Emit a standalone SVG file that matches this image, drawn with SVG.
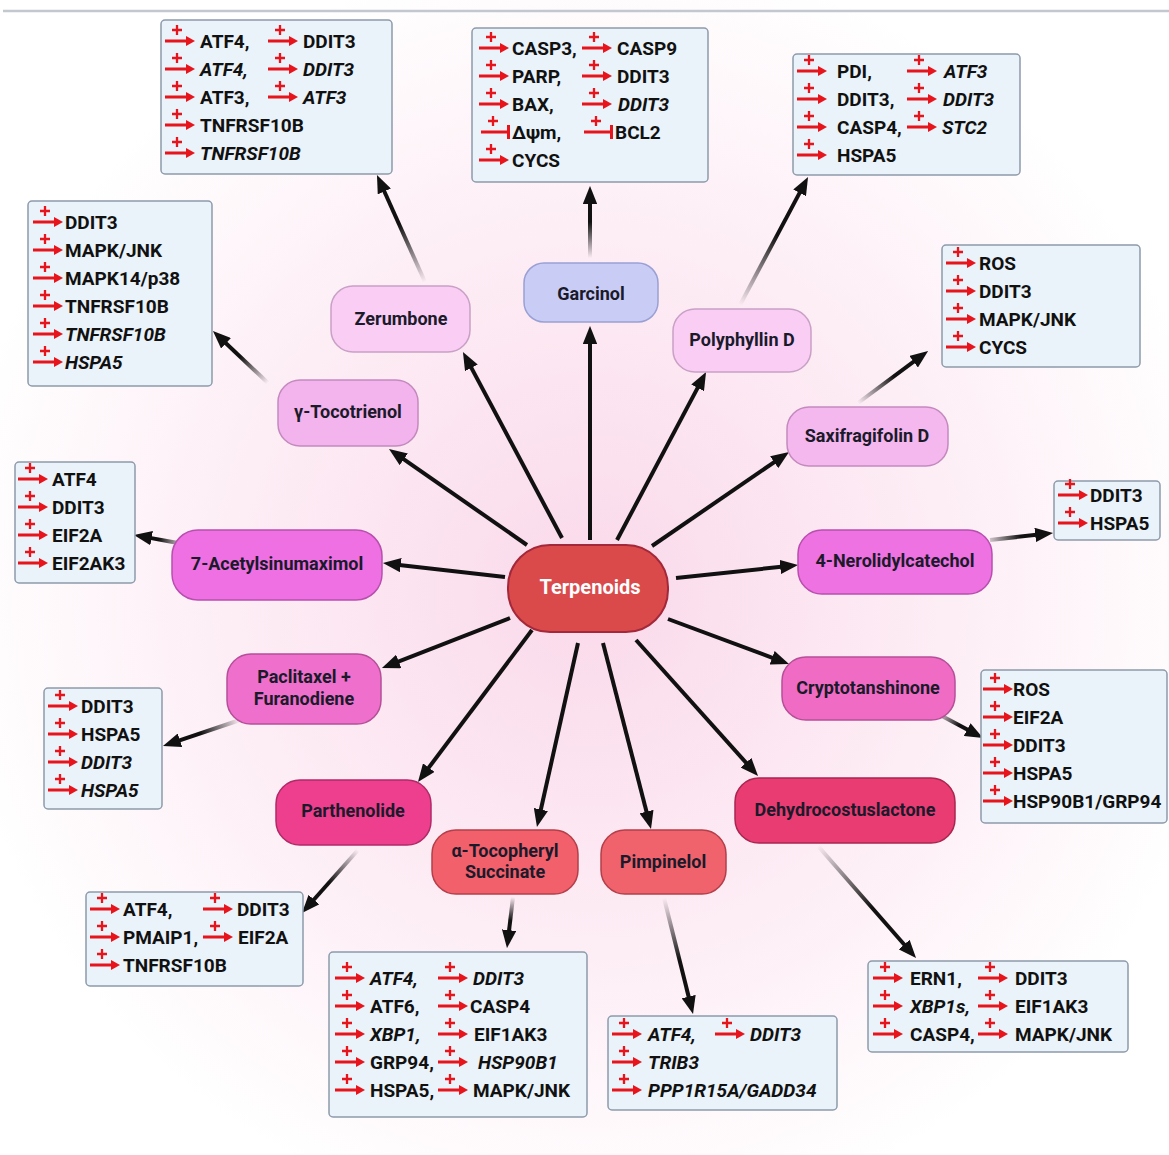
<svg xmlns="http://www.w3.org/2000/svg" xmlns:xlink="http://www.w3.org/1999/xlink" width="1169" height="1155" viewBox="0 0 1169 1155">
<defs>
<radialGradient id="bg" cx="590" cy="590" r="640" gradientUnits="userSpaceOnUse">
<stop offset="0" stop-color="#fad9ea"/>
<stop offset="0.55" stop-color="#fdedf5"/>
<stop offset="1" stop-color="#ffffff"/>
</radialGradient>
<marker id="ah" viewBox="0 0 10 8" refX="3.3" refY="4" markerWidth="4.5" markerHeight="3.6" orient="auto" markerUnits="strokeWidth">
<path d="M0,0 L10,4 L0,8 Z" fill="#111"/>
</marker>
<g id="act">
<path d="M12,-16 V-6 M7,-11 H17" stroke="#e8141c" stroke-width="2.3"/>
<path d="M0,0 H23" stroke="#e8141c" stroke-width="3"/>
<path d="M21,-5 L30,0 L21,5 Z" fill="#e8141c"/>
</g>
<g id="inh">
<path d="M12,-16 V-6 M7,-11 H17" stroke="#e8141c" stroke-width="2.3"/>
<path d="M0,0 H27" stroke="#e8141c" stroke-width="3"/>
<path d="M27.5,-7 V7" stroke="#e8141c" stroke-width="3"/>
</g>
<linearGradient id="ga" gradientUnits="userSpaceOnUse" x1="425" y1="282" x2="382" y2="186"><stop offset="0" stop-color="#111" stop-opacity="0"/><stop offset="0.6" stop-color="#111"/></linearGradient>
<linearGradient id="gb" gradientUnits="userSpaceOnUse" x1="590" y1="258" x2="590" y2="198"><stop offset="0" stop-color="#111" stop-opacity="0"/><stop offset="0.6" stop-color="#111"/></linearGradient>
<linearGradient id="gc" gradientUnits="userSpaceOnUse" x1="740" y1="305" x2="802" y2="188"><stop offset="0" stop-color="#111" stop-opacity="0"/><stop offset="0.6" stop-color="#111"/></linearGradient>
<linearGradient id="gd" gradientUnits="userSpaceOnUse" x1="268" y1="383" x2="222" y2="339"><stop offset="0" stop-color="#111" stop-opacity="0"/><stop offset="0.6" stop-color="#111"/></linearGradient>
<linearGradient id="ge" gradientUnits="userSpaceOnUse" x1="858" y1="403" x2="918" y2="358"><stop offset="0" stop-color="#111" stop-opacity="0"/><stop offset="0.6" stop-color="#111"/></linearGradient>
<linearGradient id="gf" gradientUnits="userSpaceOnUse" x1="178" y1="543" x2="146" y2="537"><stop offset="0" stop-color="#111" stop-opacity="0.3"/><stop offset="0.6" stop-color="#111"/></linearGradient>
<linearGradient id="gg" gradientUnits="userSpaceOnUse" x1="990" y1="540" x2="1041" y2="534"><stop offset="0" stop-color="#111" stop-opacity="0.2"/><stop offset="0.6" stop-color="#111"/></linearGradient>
<linearGradient id="gh" gradientUnits="userSpaceOnUse" x1="240" y1="720" x2="174" y2="742"><stop offset="0" stop-color="#111" stop-opacity="0"/><stop offset="0.6" stop-color="#111"/></linearGradient>
<linearGradient id="gi" gradientUnits="userSpaceOnUse" x1="940" y1="715" x2="972" y2="732"><stop offset="0" stop-color="#111" stop-opacity="0.2"/><stop offset="0.6" stop-color="#111"/></linearGradient>
<linearGradient id="gj" gradientUnits="userSpaceOnUse" x1="358" y1="850" x2="310" y2="904"><stop offset="0" stop-color="#111" stop-opacity="0"/><stop offset="0.6" stop-color="#111"/></linearGradient>
<linearGradient id="gk" gradientUnits="userSpaceOnUse" x1="513" y1="897" x2="508" y2="936"><stop offset="0" stop-color="#111" stop-opacity="0"/><stop offset="0.6" stop-color="#111"/></linearGradient>
<linearGradient id="gl" gradientUnits="userSpaceOnUse" x1="664" y1="898" x2="690" y2="1002"><stop offset="0" stop-color="#111" stop-opacity="0"/><stop offset="0.6" stop-color="#111"/></linearGradient>
<linearGradient id="gm" gradientUnits="userSpaceOnUse" x1="818" y1="846" x2="908" y2="949"><stop offset="0" stop-color="#111" stop-opacity="0"/><stop offset="0.6" stop-color="#111"/></linearGradient>
</defs>
<style>
.t{font-family:Roboto,"Liberation Sans",sans-serif;font-weight:700;font-size:19px;fill:#111}
.i{font-style:italic}
.n{font-family:Roboto,"Liberation Sans",sans-serif;font-weight:700;font-size:18px;fill:#1a1a2a;text-anchor:middle}
.box{fill:#eaf2fa;stroke:#8d9bab;stroke-width:1.5}
.c{stroke:#111;stroke-width:4;fill:none;marker-end:url(#ah)}
</style>
<rect width="1169" height="1155" fill="url(#bg)"/>
<line x1="3" y1="11" x2="1169" y2="11" stroke="#c3c7cf" stroke-width="2.5"/>

<g id="connectors">
<line class="c" x1="590" y1="540" x2="590" y2="338"/>
<line class="c" x1="562" y1="538" x2="468.6" y2="362.6"/>
<line class="c" x1="617" y1="540" x2="700.4" y2="382.6"/>
<line class="c" x1="527" y1="545" x2="398.9" y2="455.9"/>
<line class="c" x1="652" y1="546" x2="779.1" y2="458.8"/>
<line class="c" x1="505" y1="577" x2="394.9" y2="564.4"/>
<line class="c" x1="676" y1="578" x2="786.1" y2="566.3"/>
<line class="c" x1="510" y1="618" x2="393.2" y2="663.6"/>
<line class="c" x1="668" y1="619" x2="777.7" y2="659.8"/>
<line class="c" x1="532" y1="630" x2="425.2" y2="772.4"/>
<line class="c" x1="578" y1="643" x2="539.6" y2="815.3"/>
<line class="c" x1="603" y1="643" x2="648" y2="817.4"/>
<line class="c" x1="636" y1="640" x2="750" y2="767.1"/>
<line class="c" style="stroke:url(#ga)" x1="425" y1="282" x2="381.9" y2="186"/>
<line class="c" style="stroke:url(#gb)" x1="590" y1="258" x2="590" y2="198"/>
<line class="c" style="stroke:url(#gc)" x1="740" y1="305" x2="802.4" y2="187.6"/>
<line class="c" style="stroke:url(#gd)" x1="268" y1="383" x2="221.7" y2="339.2"/>
<line class="c" style="stroke:url(#ge)" x1="858" y1="403" x2="918.4" y2="358.2"/>
<line class="c" style="stroke:url(#gf)" x1="178" y1="543" x2="145.8" y2="537.1"/>
<line class="c" style="stroke:url(#gg)" x1="990" y1="540" x2="1041.1" y2="534.3"/>
<line class="c" style="stroke:url(#gh)" x1="240" y1="720" x2="174.4" y2="742.2"/>
<line class="c" style="stroke:url(#gi)" x1="940" y1="715" x2="972.4" y2="732.3"/>
<line class="c" style="stroke:url(#gj)" x1="358" y1="850" x2="310" y2="904"/>
<line class="c" style="stroke:url(#gk)" x1="513" y1="897" x2="508.4" y2="936.1"/>
<line class="c" style="stroke:url(#gl)" x1="664" y1="898" x2="690.1" y2="1002.4"/>
<line class="c" style="stroke:url(#gm)" x1="818" y1="846" x2="908.1" y2="949"/>
</g>

<g id="terpenoids"><rect x="508" y="545" width="160" height="87" rx="42" fill="#da4a4b" stroke="#a3283a" stroke-width="2"/><text class="n" x="590" y="594" style="fill:#fff;font-size:20px">Terpenoids</text></g>
<g id="garcinol"><rect x="524" y="263" width="134" height="59" rx="20" fill="#c9cdf6" stroke="#9aa0d4" stroke-width="1.5"/><text class="n" x="591" y="300">Garcinol</text></g>
<g id="zerumbone"><rect x="331" y="286" width="139" height="66" rx="22" fill="#f9cdf4" stroke="#c9a0c6" stroke-width="1.5"/><text class="n" x="401" y="325">Zerumbone</text></g>
<g id="polyphyllin-d"><rect x="673" y="309" width="138" height="63" rx="22" fill="#f9cdf4" stroke="#c9a0c6" stroke-width="1.5"/><text class="n" x="742" y="346">Polyphyllin D</text></g>
<g id="tocotrienol"><rect x="278" y="380" width="140" height="66" rx="22" fill="#f3b3ec" stroke="#c48abf" stroke-width="1.5"/><text class="n" x="348" y="418">γ-Tocotrienol</text></g>
<g id="saxifragifolin-d"><rect x="787" y="407" width="161" height="59" rx="22" fill="#f4b7ee" stroke="#c48abf" stroke-width="1.5"/><text class="n" x="867" y="442">Saxifragifolin D</text></g>
<g id="acetylsinumaximol"><rect x="172" y="530" width="210" height="70" rx="26" fill="#ee70e3" stroke="#b84fae" stroke-width="1.5"/><text class="n" x="277" y="570">7-Acetylsinumaximol</text></g>
<g id="nerolidylcatechol"><rect x="798" y="530" width="194" height="64" rx="24" fill="#ee72e2" stroke="#b84fae" stroke-width="1.5"/><text class="n" x="895" y="567">4-Nerolidylcatechol</text></g>
<g id="paclitaxel-furanodiene"><rect x="227" y="654" width="154" height="70" rx="24" fill="#ef70cc" stroke="#b54f98" stroke-width="1.5"/><text class="n" x="304" y="683">Paclitaxel +</text><text class="n" x="304" y="705">Furanodiene</text></g>
<g id="cryptotanshinone"><rect x="782" y="657" width="173" height="63" rx="24" fill="#f06cc4" stroke="#b54f98" stroke-width="1.5"/><text class="n" x="868" y="694">Cryptotanshinone</text></g>
<g id="parthenolide"><rect x="276" y="780" width="155" height="65" rx="24" fill="#ee3f8e" stroke="#b02a68" stroke-width="1.5"/><text class="n" x="353" y="817">Parthenolide</text></g>
<g id="dehydrocostuslactone"><rect x="735" y="778" width="220" height="65" rx="24" fill="#e93c72" stroke="#a82650" stroke-width="1.5"/><text class="n" x="845" y="816">Dehydrocostuslactone</text></g>
<g id="tocopheryl-succinate"><rect x="432" y="830" width="146" height="64" rx="24" fill="#f2606b" stroke="#b23f4a" stroke-width="1.5"/><text class="n" x="505" y="857">α-Tocopheryl</text><text class="n" x="505" y="878">Succinate</text></g>
<g id="pimpinelol"><rect x="601" y="830" width="125" height="64" rx="24" fill="#f0636d" stroke="#b23f4a" stroke-width="1.5"/><text class="n" x="663" y="868">Pimpinelol</text></g>

<g id="box-zerumbone"><rect class="box" x="161" y="20" width="231" height="154" rx="4"/>
<use href="#act" x="165" y="41"/><text class="t" x="200" y="48">ATF4,</text><use href="#act" x="268" y="41"/><text class="t" x="303" y="48">DDIT3</text>
<use href="#act" x="165" y="69"/><text class="t i" x="200" y="76">ATF4,</text><use href="#act" x="268" y="69"/><text class="t i" x="303" y="76">DDIT3</text>
<use href="#act" x="165" y="97"/><text class="t" x="200" y="104">ATF3,</text><use href="#act" x="268" y="97"/><text class="t i" x="303" y="104">ATF3</text>
<use href="#act" x="165" y="125"/><text class="t" x="200" y="132">TNFRSF10B</text>
<use href="#act" x="165" y="153"/><text class="t i" x="200" y="160">TNFRSF10B</text>
</g>
<g id="box-garcinol"><rect class="box" x="472" y="28" width="236" height="154" rx="4"/>
<use href="#act" x="479" y="48"/><text class="t" x="512" y="55">CASP3,</text><use href="#act" x="582" y="48"/><text class="t" x="617" y="55">CASP9</text>
<use href="#act" x="479" y="76"/><text class="t" x="512" y="83">PARP,</text><use href="#act" x="582" y="76"/><text class="t" x="617" y="83">DDIT3</text>
<use href="#act" x="479" y="104"/><text class="t" x="512" y="111">BAX,</text><use href="#act" x="582" y="104"/><text class="t i" x="618" y="111">DDIT3</text>
<use href="#inh" x="481" y="132"/><text class="t" x="512" y="139">Δψm,</text><use href="#inh" x="584" y="132"/><text class="t" x="615" y="139">BCL2</text>
<use href="#act" x="479" y="160"/><text class="t" x="512" y="167">CYCS</text>
</g>
<g id="box-polyphyllin"><rect class="box" x="793" y="54" width="227" height="121" rx="4"/>
<use href="#act" x="797" y="71"/><text class="t" x="837" y="78">PDI,</text><use href="#act" x="907" y="71"/><text class="t i" x="944" y="78">ATF3</text>
<use href="#act" x="797" y="99"/><text class="t" x="837" y="106">DDIT3,</text><use href="#act" x="907" y="99"/><text class="t i" x="943" y="106">DDIT3</text>
<use href="#act" x="797" y="127"/><text class="t" x="837" y="134">CASP4,</text><use href="#act" x="907" y="127"/><text class="t i" x="942" y="134">STC2</text>
<use href="#act" x="797" y="155"/><text class="t" x="837" y="162">HSPA5</text>
</g>
<g id="box-tocotrienol"><rect class="box" x="28" y="201" width="184" height="185" rx="4"/>
<use href="#act" x="33" y="222"/><text class="t" x="65" y="229">DDIT3</text>
<use href="#act" x="33" y="250"/><text class="t" x="65" y="257">MAPK/JNK</text>
<use href="#act" x="33" y="278"/><text class="t" x="65" y="285">MAPK14/p38</text>
<use href="#act" x="33" y="306"/><text class="t" x="65" y="313">TNFRSF10B</text>
<use href="#act" x="33" y="334"/><text class="t i" x="65" y="341">TNFRSF10B</text>
<use href="#act" x="33" y="362"/><text class="t i" x="65" y="369">HSPA5</text>
</g>
<g id="box-saxifragifolin"><rect class="box" x="942" y="245" width="198" height="122" rx="4"/>
<use href="#act" x="946" y="263"/><text class="t" x="979" y="270">ROS</text>
<use href="#act" x="946" y="291"/><text class="t" x="979" y="298">DDIT3</text>
<use href="#act" x="946" y="319"/><text class="t" x="979" y="326">MAPK/JNK</text>
<use href="#act" x="946" y="347"/><text class="t" x="979" y="354">CYCS</text>
</g>
<g id="box-nerolidylcatechol"><rect class="box" x="1054" y="481" width="106" height="59" rx="4"/>
<use href="#act" x="1058" y="495"/><text class="t" x="1090" y="502">DDIT3</text>
<use href="#act" x="1058" y="523"/><text class="t" x="1090" y="530">HSPA5</text>
</g>
<g id="box-acetylsinumaximol"><rect class="box" x="15" y="462" width="120" height="121" rx="4"/>
<use href="#act" x="18" y="479"/><text class="t" x="52" y="486">ATF4</text>
<use href="#act" x="18" y="507"/><text class="t" x="52" y="514">DDIT3</text>
<use href="#act" x="18" y="535"/><text class="t" x="52" y="542">EIF2A</text>
<use href="#act" x="18" y="563"/><text class="t" x="52" y="570">EIF2AK3</text>
</g>
<g id="box-cryptotanshinone"><rect class="box" x="981" y="670" width="186" height="153" rx="4"/>
<use href="#act" x="983" y="689"/><text class="t" x="1013" y="696">ROS</text>
<use href="#act" x="983" y="717"/><text class="t" x="1013" y="724">EIF2A</text>
<use href="#act" x="983" y="745"/><text class="t" x="1013" y="752">DDIT3</text>
<use href="#act" x="983" y="773"/><text class="t" x="1013" y="780">HSPA5</text>
<use href="#act" x="983" y="801"/><text class="t" x="1013" y="808">HSP90B1/GRP94</text>
</g>
<g id="box-paclitaxel"><rect class="box" x="44" y="688" width="118" height="121" rx="4"/>
<use href="#act" x="48" y="706"/><text class="t" x="81" y="713">DDIT3</text>
<use href="#act" x="48" y="734"/><text class="t" x="81" y="741">HSPA5</text>
<use href="#act" x="48" y="762"/><text class="t i" x="81" y="769">DDIT3</text>
<use href="#act" x="48" y="790"/><text class="t i" x="81" y="797">HSPA5</text>
</g>
<g id="box-parthenolide"><rect class="box" x="86" y="892" width="217" height="94" rx="4"/>
<use href="#act" x="90" y="909"/><text class="t" x="123" y="916">ATF4,</text><use href="#act" x="203" y="909"/><text class="t" x="237" y="916">DDIT3</text>
<use href="#act" x="90" y="937"/><text class="t" x="123" y="944">PMAIP1,</text><use href="#act" x="203" y="937"/><text class="t" x="238" y="944">EIF2A</text>
<use href="#act" x="90" y="965"/><text class="t" x="123" y="972">TNFRSF10B</text>
</g>
<g id="box-tocopheryl"><rect class="box" x="329" y="952" width="258" height="165" rx="4"/>
<use href="#act" x="335" y="978"/><text class="t i" x="370" y="985">ATF4,</text><use href="#act" x="438" y="978"/><text class="t i" x="473" y="985">DDIT3</text>
<use href="#act" x="335" y="1006"/><text class="t" x="370" y="1013">ATF6,</text><use href="#act" x="438" y="1006"/><text class="t" x="470" y="1013">CASP4</text>
<use href="#act" x="335" y="1034"/><text class="t i" x="370" y="1041">XBP1,</text><use href="#act" x="438" y="1034"/><text class="t" x="474" y="1041">EIF1AK3</text>
<use href="#act" x="335" y="1062"/><text class="t" x="370" y="1069">GRP94,</text><use href="#act" x="438" y="1062"/><text class="t i" x="478" y="1069">HSP90B1</text>
<use href="#act" x="335" y="1090"/><text class="t" x="370" y="1097">HSPA5,</text><use href="#act" x="438" y="1090"/><text class="t" x="473" y="1097">MAPK/JNK</text>
</g>
<g id="box-pimpinelol"><rect class="box" x="608" y="1016" width="229" height="94" rx="4"/>
<use href="#act" x="612" y="1034"/><text class="t i" x="648" y="1041">ATF4,</text><use href="#act" x="715" y="1034"/><text class="t i" x="750" y="1041">DDIT3</text>
<use href="#act" x="612" y="1062"/><text class="t i" x="648" y="1069">TRIB3</text>
<use href="#act" x="612" y="1090"/><text class="t i" x="648" y="1097">PPP1R15A/GADD34</text>
</g>
<g id="box-dehydrocostuslactone"><rect class="box" x="868" y="961" width="260" height="91" rx="4"/>
<use href="#act" x="873" y="978"/><text class="t" x="910" y="985">ERN1,</text><use href="#act" x="978" y="978"/><text class="t" x="1015" y="985">DDIT3</text>
<use href="#act" x="873" y="1006"/><text class="t i" x="910" y="1013">XBP1s,</text><use href="#act" x="978" y="1006"/><text class="t" x="1015" y="1013">EIF1AK3</text>
<use href="#act" x="873" y="1034"/><text class="t" x="910" y="1041">CASP4,</text><use href="#act" x="978" y="1034"/><text class="t" x="1015" y="1041">MAPK/JNK</text>
</g>
</svg>
